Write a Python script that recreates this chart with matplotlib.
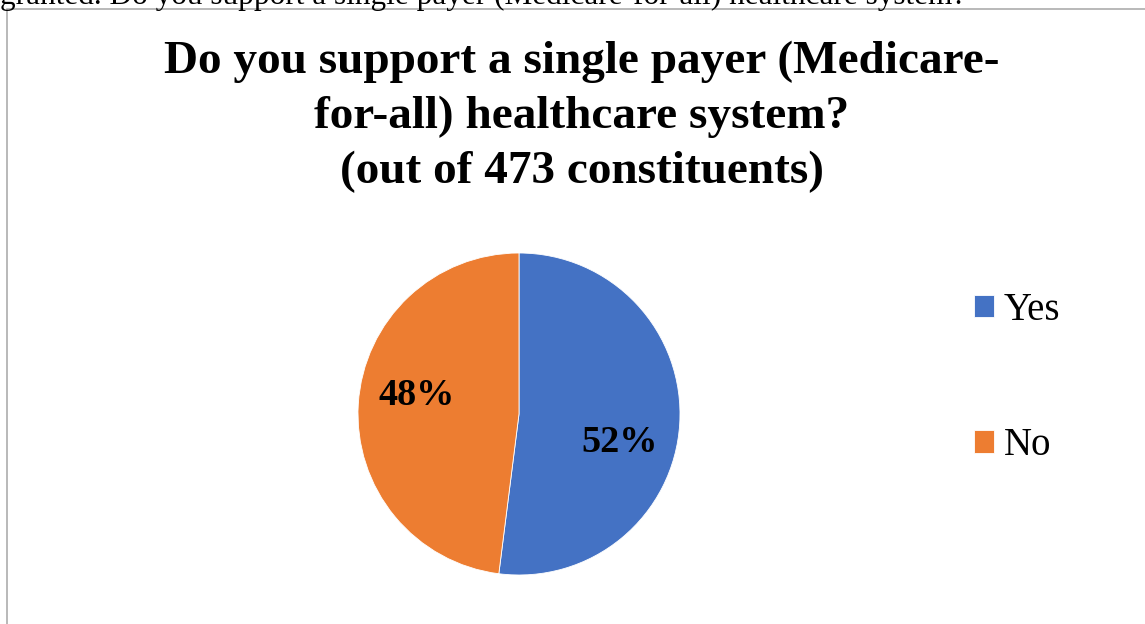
import matplotlib
matplotlib.use('Agg')
import matplotlib.pyplot as plt
from matplotlib.patches import Rectangle

categories = ['Yes', 'No']
shares = [52, 48]
colors = ['#4472C4', '#ED7D31']
title_lines = ['Do you support a single payer (Medicare-',
               'for-all) healthcare system?',
               '(out of 473 constituents)']
header_text = 'granted. Do you support a single payer (Medicare-for-all) healthcare system?'

plt.rcParams['font.family'] = ['Liberation Serif', 'DejaVu Serif']

W, H = 1145, 624
fig = plt.figure(figsize=(W / 100, H / 100), dpi=100)
fig.patch.set_facecolor('white')

# chart frame (extends beyond the cropped right/bottom edges)
fig.add_artist(Rectangle((7 / W, -0.1), 1.2, 1 - 8.5 / H + 0.1, transform=fig.transFigure,
                         fill=False, edgecolor='#A6A6A6', lw=1.1, zorder=1))

# clipped header text from the surrounding document
fig.text(0.0, 1 - 4 / H, header_text, ha='left', va='baseline', fontsize=22.5, color='black', zorder=3)

# title
baselines = [73, 128, 183]
for line, b in zip(title_lines, baselines):
    fig.text(582 / W, 1 - b / H, line, ha='center', va='baseline', fontsize=34, fontweight='bold')

cx, cy, r = 519, 414, 161
ax = fig.add_axes([(cx - r) / W, (H - cy - r) / H, 2 * r / W, 2 * r / H])
wedges, texts, autotexts = ax.pie(
    shares, colors=colors, startangle=90, counterclock=False, radius=1,
    autopct='%1.0f%%', pctdistance=0.66,
    wedgeprops=dict(edgecolor='white', linewidth=0.6),
    textprops=dict(fontsize=27.5, fontweight='bold', color='black'))
ax.set_xlim(-1, 1)
ax.set_ylim(-1, 1)
ax.axis('off')
autotexts[0].set_position((0.627, -0.174))
autotexts[1].set_position((-0.633, 0.118))

fig.legend(wedges, categories, loc='center left', bbox_to_anchor=(974 / W, 1 - 378 / H),
           frameon=False, fontsize=28, labelspacing=2.53, handlelength=0.52, handleheight=0.52,
           handletextpad=0.25, borderpad=0, borderaxespad=0)

fig.savefig('out.png', dpi=100, facecolor='white')
